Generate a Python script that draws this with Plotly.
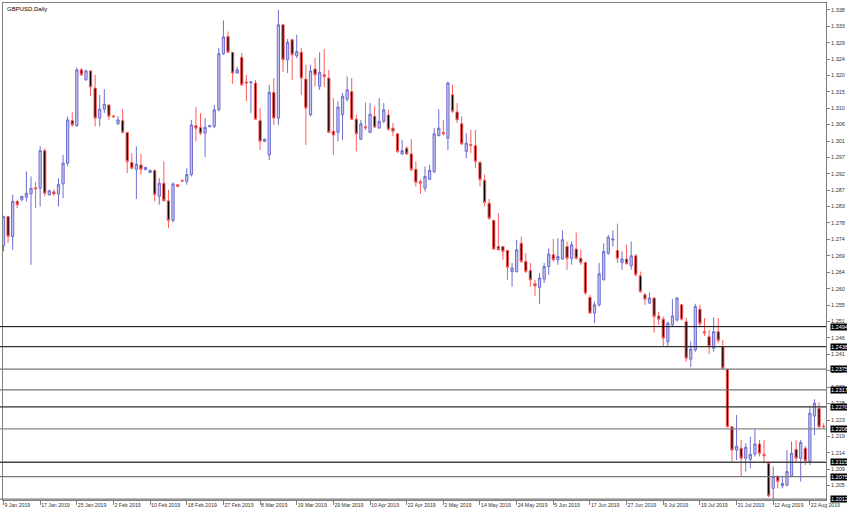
import plotly.graph_objects as go

title_text = "GBPUSD,Daily"

date_labels = ["9 Jan 2019", "17 Jan 2019", "25 Jan 2019", "2 Feb 2019", "10 Feb 2019",
               "18 Feb 2019", "27 Feb 2019", "8 Mar 2019", "19 Mar 2019", "29 Mar 2019",
               "10 Apr 2019", "22 Apr 2019", "2 May 2019", "14 May 2019", "24 May 2019",
               "5 Jun 2019", "17 Jun 2019", "27 Jun 2019", "9 Jul 2019", "19 Jul 2019",
               "31 Jul 2019", "12 Aug 2019", "22 Aug 2019"]
date_label_bars = [0, 8, 16, 24, 32, 40, 48, 56, 64, 72, 80, 88, 96, 104, 112,
                   120, 128, 136, 144, 152, 160, 168, 176]

opens = [1.2720, 1.2802, 1.2746, 1.2844, 1.2849, 1.2856, 1.2865, 1.2882, 1.2881, 1.2986,
         1.2863, 1.2871, 1.2865, 1.2893, 1.2951, 1.3070, 1.3056, 1.3212, 1.3184, 1.3209,
         1.3161, 1.3077, 1.3102, 1.3114, 1.3083, 1.3061, 1.3070, 1.3037, 1.2953, 1.2934,
         1.2946, 1.2933, 1.2925, 1.2931, 1.2858, 1.2895, 1.2846, 1.2791, 1.2891, 1.2903,
         1.2900, 1.2919, 1.3056, 1.3051, 1.3035, 1.3053, 1.3054, 1.3100, 1.3257, 1.3305,
         1.3261, 1.3203, 1.3247, 1.3178, 1.3176, 1.3175, 1.3070, 1.3012, 1.2974, 1.3149,
         1.3077, 1.3338, 1.3240, 1.3296, 1.3251, 1.3261, 1.3186, 1.3086, 1.3214, 1.3166,
         1.3198, 1.3189, 1.3040, 1.3037, 1.3086, 1.3130, 1.3151, 1.3074, 1.3018, 1.3053,
         1.3037, 1.3082, 1.3049, 1.3068, 1.3086, 1.3049, 1.3033, 1.2977, 1.2993, 1.2977,
         1.2934, 1.2900, 1.2881, 1.2906, 1.2928, 1.3028, 1.3037, 1.3021, 1.3142, 1.3094,
         1.3061, 1.2984, 1.3003, 1.3000, 1.2953, 1.2903, 1.2839, 1.2791, 1.2718, 1.2718,
         1.2707, 1.2648, 1.2648, 1.2727, 1.2676, 1.2651, 1.2614, 1.2604, 1.2627, 1.2662,
         1.2695, 1.2681, 1.2683, 1.2718, 1.2685, 1.2711, 1.2685, 1.2673, 1.2576, 1.2532,
         1.2555, 1.2625, 1.2699, 1.2736, 1.2707, 1.2673, 1.2683, 1.2664, 1.2692, 1.2636,
         1.2583, 1.2560, 1.2574, 1.2524, 1.2515, 1.2452, 1.2499, 1.2513, 1.2555, 1.2508,
         1.2403, 1.2429, 1.2543, 1.2480, 1.2466, 1.2434, 1.2480, 1.2438, 1.2375, 1.2214,
         1.2149, 1.2154, 1.2126, 1.2123, 1.2138, 1.2166, 1.2137, 1.2112, 1.2042, 1.2075,
         1.2049, 1.2051, 1.2077, 1.2151, 1.2126, 1.2154, 1.2117, 1.2244, 1.2266, 1.2216]

highs = [1.2804, 1.2804, 1.2863, 1.2849, 1.2860, 1.2928, 1.2914, 1.2899, 1.2999, 1.2993,
         1.2877, 1.2877, 1.2909, 1.2974, 1.3082, 1.3093, 1.3218, 1.3217, 1.3212, 1.3210,
         1.3198, 1.3142, 1.3158, 1.3114, 1.3086, 1.3082, 1.3102, 1.3037, 1.2979, 1.2998,
         1.2977, 1.2941, 1.2933, 1.2932, 1.2909, 1.2956, 1.2877, 1.2897, 1.2893, 1.2905,
         1.2937, 1.3072, 1.3108, 1.3091, 1.3077, 1.3058, 1.3114, 1.3273, 1.3350, 1.3319,
         1.3261, 1.3221, 1.3259, 1.3198, 1.3179, 1.3184, 1.3105, 1.3020, 1.3170, 1.3189,
         1.3380, 1.3341, 1.3298, 1.3299, 1.3310, 1.3273, 1.3226, 1.3226, 1.3245, 1.3261,
         1.3270, 1.3212, 1.3133, 1.3124, 1.3147, 1.3193, 1.3189, 1.3086, 1.3072, 1.3121,
         1.3119, 1.3110, 1.3133, 1.3119, 1.3100, 1.3063, 1.3035, 1.3016, 1.2998, 1.3018,
         1.2956, 1.2905, 1.2942, 1.2946, 1.3049, 1.3102, 1.3072, 1.3179, 1.3170, 1.3119,
         1.3082, 1.3035, 1.3044, 1.3044, 1.2956, 1.2919, 1.2851, 1.2793, 1.2811, 1.2718,
         1.2709, 1.2672, 1.2737, 1.2746, 1.2699, 1.2672, 1.2625, 1.2644, 1.2672, 1.2713,
         1.2739, 1.2741, 1.2763, 1.2732, 1.2732, 1.2757, 1.2709, 1.2676, 1.2583, 1.2564,
         1.2672, 1.2727, 1.2751, 1.2763, 1.2782, 1.2704, 1.2723, 1.2732, 1.2697, 1.2648,
         1.2588, 1.2589, 1.2576, 1.2536, 1.2522, 1.2508, 1.2571, 1.2576, 1.2558, 1.2518,
         1.2452, 1.2558, 1.2555, 1.2518, 1.2485, 1.2520, 1.2518, 1.2457, 1.2375, 1.2216,
         1.2247, 1.2177, 1.2168, 1.2186, 1.2207, 1.2177, 1.2177, 1.2117, 1.2103, 1.2079,
         1.2077, 1.2149, 1.2173, 1.2177, 1.2177, 1.2160, 1.2270, 1.2291, 1.2282, 1.2224]

lows = [1.2705, 1.2728, 1.2709, 1.2825, 1.2844, 1.2844, 1.2667, 1.2826, 1.2830, 1.2858,
        1.2860, 1.2860, 1.2830, 1.2853, 1.2942, 1.3053, 1.3053, 1.3195, 1.3182, 1.3138,
        1.3054, 1.3054, 1.3091, 1.3072, 1.3077, 1.3058, 1.3035, 1.2923, 1.2934, 1.2851,
        1.2919, 1.2931, 1.2923, 1.2844, 1.2835, 1.2844, 1.2769, 1.2785, 1.2884, 1.2898,
        1.2891, 1.2914, 1.3012, 1.3030, 1.2968, 1.3051, 1.3049, 1.3096, 1.3254, 1.3259,
        1.3173, 1.3201, 1.3167, 1.3124, 1.3091, 1.3072, 1.2988, 1.3010, 1.2960, 1.3058,
        1.3058, 1.3207, 1.3203, 1.3184, 1.3245, 1.3142, 1.3002, 1.3082, 1.3166, 1.3156,
        1.3164, 1.3035, 1.2974, 1.3012, 1.3016, 1.3124, 1.3072, 1.2984, 1.3016, 1.3044,
        1.3035, 1.3049, 1.3048, 1.3063, 1.3042, 1.3026, 1.2979, 1.2974, 1.2974, 1.2928,
        1.2886, 1.2865, 1.2872, 1.2905, 1.2923, 1.3026, 1.3028, 1.2988, 1.3091, 1.3063,
        1.3002, 1.2965, 1.2979, 1.2937, 1.2886, 1.2830, 1.2793, 1.2709, 1.2707, 1.2681,
        1.2625, 1.2606, 1.2645, 1.2672, 1.2644, 1.2606, 1.2580, 1.2558, 1.2616, 1.2639,
        1.2676, 1.2667, 1.2681, 1.2653, 1.2667, 1.2681, 1.2667, 1.2583, 1.2530, 1.2504,
        1.2550, 1.2623, 1.2695, 1.2718, 1.2672, 1.2653, 1.2667, 1.2653, 1.2634, 1.2588,
        1.2555, 1.2558, 1.2477, 1.2499, 1.2438, 1.2440, 1.2494, 1.2508, 1.2511, 1.2396,
        1.2381, 1.2424, 1.2494, 1.2468, 1.2418, 1.2424, 1.2448, 1.2375, 1.2213, 1.2117,
        1.2121, 1.2075, 1.2089, 1.2098, 1.2131, 1.2131, 1.2112, 1.2017, 1.2011, 1.2042,
        1.2042, 1.2047, 1.2075, 1.2114, 1.2061, 1.2107, 1.2107, 1.2191, 1.2207, 1.2210]

closes = [1.2802, 1.2746, 1.2844, 1.2835, 1.2858, 1.2867, 1.2881, 1.2879, 1.2986, 1.2867,
          1.2874, 1.2865, 1.2891, 1.2951, 1.3072, 1.3058, 1.3212, 1.3198, 1.3209, 1.3164,
          1.3077, 1.3102, 1.3116, 1.3082, 1.3081, 1.3072, 1.3037, 1.2956, 1.2937, 1.2948,
          1.2934, 1.2939, 1.2931, 1.2863, 1.2895, 1.2846, 1.2791, 1.2893, 1.2886, 1.2901,
          1.2919, 1.3058, 1.3049, 1.3035, 1.3051, 1.3056, 1.3100, 1.3257, 1.3304, 1.3261,
          1.3203, 1.3212, 1.3170, 1.3175, 1.3178, 1.3074, 1.3012, 1.3018, 1.3149, 1.3077,
          1.3338, 1.3240, 1.3289, 1.3254, 1.3263, 1.3189, 1.3105, 1.3209, 1.3198, 1.3205,
          1.3193, 1.3037, 1.3030, 1.3108, 1.3138, 1.3156, 1.3074, 1.3033, 1.3061, 1.3050,
          1.3088, 1.3052, 1.3068, 1.3100, 1.3046, 1.3040, 1.2984, 1.2986, 1.2977, 1.2933,
          1.2897, 1.2895, 1.2914, 1.2931, 1.3033, 1.3049, 1.3033, 1.3175, 1.3096, 1.3072,
          1.3005, 1.3007, 1.3001, 1.2956, 1.2905, 1.2841, 1.2797, 1.2711, 1.2709, 1.2704,
          1.2660, 1.2658, 1.2709, 1.2676, 1.2648, 1.2625, 1.2608, 1.2630, 1.2662, 1.2697,
          1.2681, 1.2690, 1.2737, 1.2685, 1.2723, 1.2685, 1.2673, 1.2588, 1.2532, 1.2555,
          1.2642, 1.2704, 1.2744, 1.2739, 1.2685, 1.2683, 1.2670, 1.2692, 1.2639, 1.2592,
          1.2571, 1.2574, 1.2522, 1.2515, 1.2462, 1.2504, 1.2524, 1.2574, 1.2515, 1.2406,
          1.2431, 1.2550, 1.2502, 1.2476, 1.2438, 1.2480, 1.2455, 1.2378, 1.2214, 1.2149,
          1.2160, 1.2126, 1.2157, 1.2137, 1.2166, 1.2140, 1.2133, 1.2021, 1.2075, 1.2061,
          1.2056, 1.2089, 1.2140, 1.2126, 1.2170, 1.2119, 1.2252, 1.2280, 1.2214, 1.2214]

price_ticks = [1.3380, 1.3334, 1.3288, 1.3242, 1.3196, 1.3151, 1.3105, 1.3059, 1.3013, 1.2967,
               1.2921, 1.2876, 1.2830, 1.2784, 1.2738, 1.2692, 1.2646, 1.2600, 1.2554, 1.2509,
               1.2463, 1.2417, 1.2371, 1.2325, 1.2279, 1.2233, 1.2188, 1.2142, 1.2096, 1.2050]
price_tick_labels = ["1.338", "1.333", "1.329", "1.324", "1.320", "1.315", "1.310", "1.306",
                     "1.301", "1.297", "1.292", "1.287", "1.283", "1.278", "1.274", "1.269",
                     "1.264", "1.260", "1.255", "1.251", "1.246", "1.241", "1.237", "1.232",
                     "1.228", "1.223", "1.219", "1.214", "1.209", "1.205"]

levels = [1.2494, 1.2438, 1.2375, 1.2317, 1.2270, 1.2208, 1.2115, 1.2075, 1.2012]
level_labels = ["1.2494", "1.2438", "1.2375", "1.2317", "1.2270", "1.2208", "1.2115", "1.2075", "1.2012"]

level_colors = ["#000000", "#333333", "#777777", "#777777", "#333333",
                "#888888", "#444444", "#777777", "#777777"]

bars = list(range(len(opens)))

fig = go.Figure()
fig.add_trace(go.Candlestick(
    x=bars, open=opens, high=highs, low=lows, close=closes,
    increasing=dict(line=dict(color="#6e6ed2", width=1), fillcolor="#c5c5ee"),
    decreasing=dict(line=dict(color="#ff5a5a", width=1), fillcolor="#000000"),
    whiskerwidth=0, hoverinfo="skip", showlegend=False,
))

shapes = []
annotations = []
for lv, lab, col in zip(levels, level_labels, level_colors):
    shapes.append(dict(type="line", xref="paper", yref="y", x0=-0.005, x1=1.0,
                       y0=lv, y1=lv, line=dict(color=col, width=1.3 if col != "#000000" else 1),
                       layer="above"))
    annotations.append(dict(xref="paper", yref="y", x=1.0, y=lv, xanchor="left",
                            yanchor="middle", xshift=4, text=lab, showarrow=False,
                            bgcolor="#000000", borderpad=0,
                            font=dict(family="Liberation Sans, Arial", size=5.5, color="#ffffff")))

annotations.append(dict(xref="paper", yref="paper", x=0, y=1, xanchor="left", yanchor="top",
                        xshift=2, yshift=-1, text=title_text, showarrow=False,
                        font=dict(family="Liberation Sans, Arial", size=6, color="#000000")))

fig.update_layout(
    width=847, height=516,
    margin=dict(l=3, r=21, t=3, b=16, autoexpand=False),
    paper_bgcolor="#ffffff", plot_bgcolor="#ffffff",
    shapes=shapes, annotations=annotations,
    xaxis=dict(range=[-0.11, 179.52], showgrid=False, zeroline=False,
               showline=True, linecolor="#7f7f7f", linewidth=1, mirror=True,
               ticks="outside", ticklen=4, tickcolor="#7f7f7f",
               tickvals=date_label_bars, ticktext=date_labels,
               ticklabelposition="outside right", tickangle=0,
               tickfont=dict(family="Liberation Sans, Arial", size=5.2, color="#333333"),
               rangeslider=dict(visible=False), automargin=False, fixedrange=True),
    yaxis=dict(side="right", range=[1.20094, 1.33988], showgrid=False, zeroline=False,
               showline=True, linecolor="#7f7f7f", linewidth=1, mirror=True,
               ticks="outside", ticklen=3, tickcolor="#7f7f7f",
               tickvals=price_ticks, ticktext=price_tick_labels,
               tickfont=dict(family="Liberation Sans, Arial", size=5.5, color="#333333"),
               automargin=False, fixedrange=True),
)

fig.write_html("out.html", config={"displayModeBar": False},
               post_script="document.body.style.margin='0';document.body.style.overflow='hidden';")
